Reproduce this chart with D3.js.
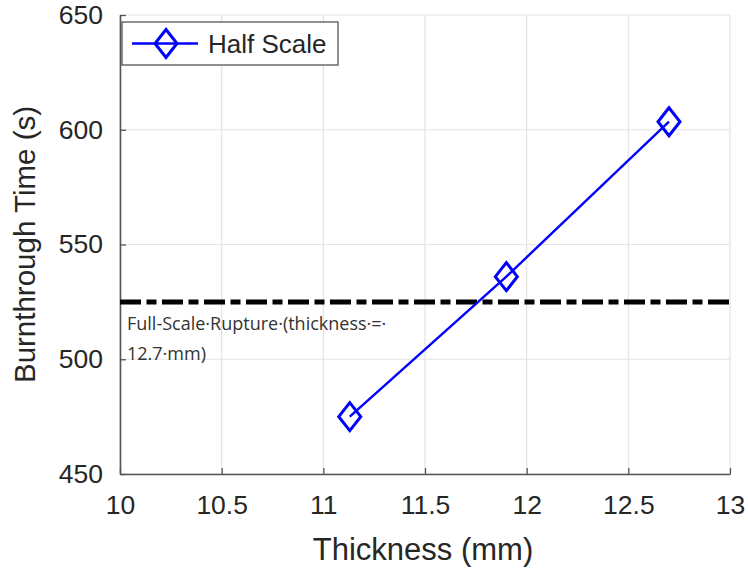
<!DOCTYPE html>
<html>
<head>
<meta charset="utf-8">
<script src="https://cdn.jsdelivr.net/npm/d3@7"></script>
<style>
  body { margin: 0; background: #fff; }
  svg { display: block; font-family: "Liberation Sans", Arial, sans-serif; }
</style>
</head>
<body>
<svg id="svg" width="748" height="571"></svg>
<script>
// data
var thickness = [11.13, 11.9, 12.7];
var burnTime = [475, 536, 603.5];
var ruptureTime = 525;
var xTicks = [10, 10.5, 11, 11.5, 12, 12.5, 13];
var yTicks = [450, 500, 550, 600, 650];
var seriesName = "Half Scale";
var noteLines = ["Full-Scale\u00b7Rupture\u00b7(thickness\u00b7=\u00b7", "12.7\u00b7mm)"];

var svg = d3.select("#svg");
var padding = {top: 15, right: 18, bottom: 97, left: 120};
var W = 748 - padding.left - padding.right;
var H = 571 - padding.top - padding.bottom;

var x = d3.scaleLinear().domain([10, 13]).range([0, W]);
var y = d3.scaleLinear().domain([450, 650]).range([H, 0]);

var g = svg.append("g").attr("transform", "translate(" + padding.left + "," + padding.top + ")");

// grid
g.append("g").selectAll("line").data(xTicks).enter().append("line")
  .attr("x1", d => x(d)).attr("x2", d => x(d)).attr("y1", 0).attr("y2", H)
  .attr("stroke", "#e3e3e3").attr("stroke-width", 1.2);
g.append("g").selectAll("line").data(yTicks).enter().append("line")
  .attr("x1", 0).attr("x2", W).attr("y1", d => y(d)).attr("y2", d => y(d))
  .attr("stroke", "#e3e3e3").attr("stroke-width", 1.2);

// axes (ticks point inward)
var xAxis = g.append("g").attr("transform", "translate(0," + H + ")")
  .call(d3.axisBottom(x).tickValues(xTicks).tickSizeInner(-6).tickSizeOuter(0).tickPadding(21).tickFormat(d3.format("")));
var yAxis = g.append("g")
  .call(d3.axisLeft(y).tickValues(yTicks).tickSizeInner(-6).tickSizeOuter(0).tickPadding(17).tickFormat(d3.format("")));
[xAxis, yAxis].forEach(function(a){
  a.select(".domain").attr("stroke", "#555").attr("stroke-width", 1.6);
  a.selectAll(".tick line").attr("stroke", "#555").attr("stroke-width", 1.3);
  a.selectAll(".tick text").attr("fill", "#262626").style("font-size", "26.5px")
    .style("font-family", "'Liberation Sans', Arial, sans-serif");
});

// rupture line
g.append("line")
  .attr("x1", 0).attr("x2", W).attr("y1", y(ruptureTime)).attr("y2", y(ruptureTime))
  .attr("stroke", "#000").attr("stroke-width", 5)
  .attr("stroke-dasharray", "21,5.5,10,5.5");

var note = g.append("text").attr("x", 7).attr("y", y(ruptureTime) + 28)
  .attr("fill", "#333").style("font-size", "18px").style("font-family", "'Open Sans', 'Noto Sans', sans-serif");
note.selectAll("tspan").data(noteLines).enter().append("tspan")
  .attr("x", 7).attr("dy", (d, i) => i ? 30 : 0).text(d => d);

// series
var pts = thickness.map((t, i) => [t, burnTime[i]]);
g.append("path").datum(pts)
  .attr("d", d3.line().x(d => x(d[0])).y(d => y(d[1])))
  .attr("fill", "none").attr("stroke", "#0000ff").attr("stroke-width", 2.4);

var diamond = function(rx, ry){ return "M0," + (-ry) + "L" + rx + ",0L0," + ry + "L" + (-rx) + ",0Z"; };
g.selectAll(".pt").data(pts).enter().append("path").attr("class", "pt")
  .attr("transform", d => "translate(" + x(d[0]) + "," + y(d[1]) + ")")
  .attr("d", diamond(11, 14))
  .attr("fill", "none").attr("stroke", "#0000ff").attr("stroke-width", 3);

// legend
var lg = g.append("g").attr("transform", "translate(2,7)");
lg.append("rect").attr("x", 0).attr("y", 0).attr("width", 216).attr("height", 43)
  .attr("fill", "#fff").attr("stroke", "#555").attr("stroke-width", 1.3);
lg.append("line").attr("x1", 10).attr("x2", 76).attr("y1", 21.5).attr("y2", 21.5)
  .attr("stroke", "#0000ff").attr("stroke-width", 2.4);
lg.append("path").attr("transform", "translate(44,21.5)").attr("d", diamond(11, 14))
  .attr("fill", "none").attr("stroke", "#0000ff").attr("stroke-width", 3);
lg.append("text").attr("x", 86).attr("y", 31).text(seriesName)
  .attr("fill", "#262626").style("font-size", "26px");

// axis titles
svg.append("text").attr("x", padding.left + x(11.5) - 2).attr("y", 560)
  .attr("text-anchor", "middle").attr("fill", "#262626").style("font-size", "31px")
  .text("Thickness (mm)");
svg.append("text").attr("transform", "translate(35," + (padding.top + H / 2) + ") rotate(-90)")
  .attr("text-anchor", "middle").attr("fill", "#262626").style("font-size", "29.5px")
  .text("Burnthrough Time (s)");
</script>
</body>
</html>
